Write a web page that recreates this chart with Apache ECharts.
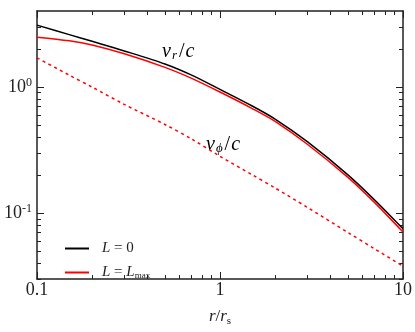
<!DOCTYPE html>
<html>
<head>
<meta charset="utf-8">
<script src="https://cdn.jsdelivr.net/npm/echarts@6/dist/echarts.min.js"></script>
<style>
html, body { margin: 0; padding: 0; background: #fff; }
#main { width: 415px; height: 332px; }
</style>
</head>
<body>
<div id="main"></div>
<script>
// r / r_s
const r = [0.1, 0.15, 0.2, 0.3, 0.5, 0.7, 1, 1.5, 2, 3, 5, 7, 10];
// v_r / c for L = 0
const vrL0 = [3.09, 2.60, 2.30, 1.93, 1.52, 1.24, 0.956, 0.706, 0.556, 0.368, 0.201, 0.127, 0.075];
// v_r / c for L = Lmax
const vrLmax = [2.48, 2.32, 2.15, 1.83, 1.43, 1.17, 0.911, 0.674, 0.533, 0.351, 0.192, 0.121, 0.0707];
// v_phi / c for L = Lmax
const vphiLmax = [1.70, 1.24, 0.997, 0.727, 0.504, 0.386, 0.282, 0.201, 0.158, 0.111, 0.0701, 0.052, 0.0379];

const xMajorTicks = [0.1, 1, 10];
const xTickLabels = ['0.1', '1', '10'];
const xMinorTicks = [0.2, 0.3, 0.4, 0.5, 0.6, 0.7, 0.8, 0.9, 2, 3, 4, 5, 6, 7, 8, 9];
const yMajorTicks = [0.1, 1];
const yTickExps = ['-1', '0'];
const yMinorTicks = [0.03, 0.04, 0.05, 0.06, 0.07, 0.08, 0.09, 0.2, 0.3, 0.4, 0.5, 0.6, 0.7, 0.8, 0.9, 2, 3];

const xMin = 0.1, xMax = 10, yMin = 0.03, yMax = 4;

const serif = '"Liberation Serif", "DejaVu Serif", serif';
const ink = '#222';

let myChart = echarts.init(document.getElementById('main'));

function pair(a) { return a.map((v, i) => [r[i], v]); }

// ticks are drawn on extra value axes that live in log10 space
function tickAxis(pos, ticks, len, line, labels) {
  const vals = ticks.map(Math.log10);
  const isX = pos === 'bottom' || pos === 'top';
  const lo = Math.log10(isX ? xMin : yMin), hi = Math.log10(isX ? xMax : yMax);
  return {
    type: 'value', position: pos, min: lo, max: hi,
    axisLine: { show: line, onZero: false, lineStyle: { color: ink, width: 1.5 } },
    axisTick: { show: true, inside: true, length: len, customValues: vals, lineStyle: { color: ink, width: 1 } },
    axisLabel: labels ? Object.assign({ customValues: vals }, labels) : { show: false },
    splitLine: { show: false }
  };
}

// label style for the v_r / c and v_phi / c annotations
const annoRich = {
  v: { fontFamily: serif, fontStyle: 'italic', fontSize: 20, fill: '#000' },
  u: { fontFamily: serif, fontSize: 20, fill: '#000', padding: [0, 1, 0, 1] },
  s: { fontFamily: serif, fontStyle: 'italic', fontSize: 13, fill: '#000', padding: [8, 1, 0, 1] }
};

let option = {
  animation: false,
  backgroundColor: '#fff',
  grid: { left: 37, right: 12, top: 11, bottom: 40 },
  xAxis: [
    {
      type: 'log', logBase: 10, min: xMin, max: xMax, position: 'bottom',
      axisLine: { show: true, onZero: false, lineStyle: { color: ink, width: 1.5 } },
      axisTick: { show: false }, axisLabel: { show: false }, splitLine: { show: false },
      name: '{i|r}{u|/}{i|r}{s|s}', nameLocation: 'middle', nameGap: 28,
      nameTextStyle: {
        rich: {
          i: { fontFamily: serif, fontStyle: 'italic', fontSize: 17, color: ink },
          u: { fontFamily: serif, fontSize: 17, color: ink },
          s: { fontFamily: serif, fontSize: 11, color: ink, padding: [9, 0, 0, 0] }
        }
      }
    },
    tickAxis('bottom', xMajorTicks, 7, false, {
      margin: 2, fontFamily: serif, fontSize: 18, color: ink,
      formatter: v => xTickLabels[xMajorTicks.findIndex(t => Math.abs(Math.log10(t) - v) < 1e-6)]
    }),
    tickAxis('bottom', xMinorTicks, 4, false),
    tickAxis('top', xMajorTicks, 7, true),
    tickAxis('top', xMinorTicks, 4, false)
  ],
  yAxis: [
    {
      type: 'log', logBase: 10, min: yMin, max: yMax, position: 'left',
      axisLine: { show: true, onZero: false, lineStyle: { color: ink, width: 1.5 } },
      axisTick: { show: false }, axisLabel: { show: false }, splitLine: { show: false }
    },
    tickAxis('left', yMajorTicks, 7, false, {
      margin: 5,
      formatter: v => '{b|10}{e|' + yTickExps[yMajorTicks.findIndex(t => Math.abs(Math.log10(t) - v) < 1e-6)] + '}',
      rich: {
        b: { fontFamily: serif, fontSize: 18, color: ink },
        e: { fontFamily: serif, fontSize: 12, color: ink, padding: [0, 0, 9, 0] }
      }
    }),
    tickAxis('left', yMinorTicks, 4, false),
    tickAxis('right', yMajorTicks, 7, true),
    tickAxis('right', yMinorTicks, 4, false)
  ],
  legend: {
    orient: 'vertical', left: 59, top: 236,
    itemWidth: 24, itemHeight: 14, itemGap: 9,
    itemStyle: { opacity: 0 },
    data: ['L0', 'Lmax'],
    formatter: name => name === 'L0'
      ? '{f|L}{t| = 0}'
      : '{f|L}{t| = }{i|L}{s|max}',
    textStyle: {
      rich: {
        f: { fontFamily: serif, fontStyle: 'italic', fontSize: 15, color: ink, padding: [0, 0, 0, 8] },
        i: { fontFamily: serif, fontStyle: 'italic', fontSize: 15, color: ink },
        t: { fontFamily: serif, fontSize: 15, color: ink },
        s: { fontFamily: serif, fontSize: 9, color: ink, padding: [6, 0, 0, 0] }
      }
    }
  },
  graphic: [
    {
      type: 'text', left: 162, top: 42,
      style: { text: '{v|v}{s|r}{u|/}{v|c}', rich: annoRich }
    },
    {
      type: 'text', left: 206, top: 135,
      style: { text: '{v|v}{s|ϕ}{u|/}{v|c}', rich: annoRich }
    }
  ],
  series: [
    {
      name: 'L0', type: 'line', symbol: 'none', smooth: 0.3,
      data: pair(vrL0),
      lineStyle: { color: '#000', width: 1.5 }, itemStyle: { color: '#000' }
    },
    {
      name: 'Lmax', type: 'line', symbol: 'none', smooth: 0.3,
      data: pair(vrLmax),
      lineStyle: { color: '#ff0000', width: 1.5 }, itemStyle: { color: '#ff0000' }
    },
    {
      name: 'vphi', type: 'line', symbol: 'none', smooth: 0.3,
      data: pair(vphiLmax),
      lineStyle: { color: '#ff0000', width: 1.5, type: [3, 3.5] }, itemStyle: { color: '#ff0000' }
    }
  ]
};

option && myChart.setOption(option);
</script>
</body>
</html>
